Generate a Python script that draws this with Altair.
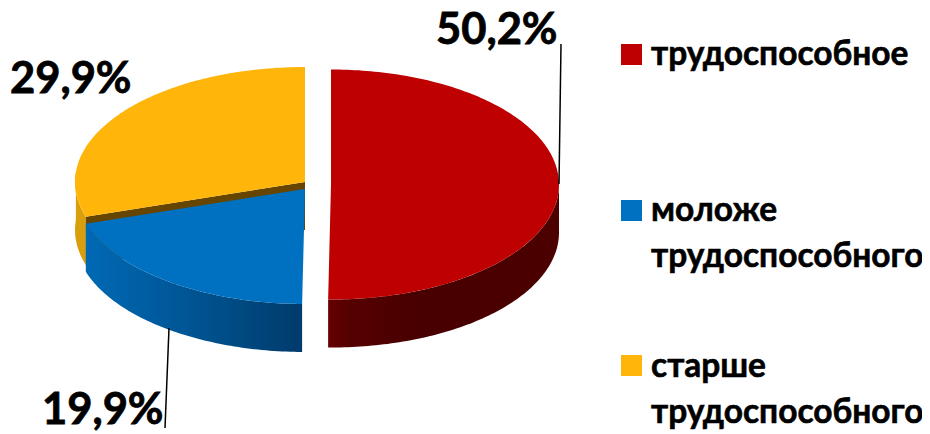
import math
import altair as alt
import pandas as pd

categories = ["трудоспособное", "моложе трудоспособного", "старше трудоспособного"]
shares = [50.2, 19.9, 29.9]
share_labels = ["50,2%", "19,9%", "29,9%"]
top_colors = ["#BE0000", "#0070C0", "#FFB50A"]
legend_lines = [["трудоспособное"], ["моложе", "трудоспособного"], ["старше", "трудоспособного"]]

FONT = "Lato"
RX, RY, DEPTH = 230, 115, 48
xs = alt.Scale(domain=[8, 922], range=[0, 914])
ys = alt.Scale(domain=[8, 434], range=[0, 426])
X = alt.X("x:Q", scale=xs, axis=None)
Y = alt.Y("y:Q", scale=ys, axis=None)


def pt(cx, cy, t, rx=RX, ry=RY, dy=0):
    r = math.radians(t)
    return cx - rx * math.sin(r), cy - ry * math.cos(r) + dy


def arc(cx, cy, a, b, rx=RX, ry=RY, dy=0):
    n = max(int(abs(b - a)), 2)
    return [pt(cx, cy, a + (b - a) * i / n, rx, ry, dy) for i in range(n + 1)]


def poly(points, fill):
    df = pd.DataFrame(points, columns=["x", "y"])
    df["i"] = range(len(df))
    return alt.Chart(df).mark_line(fill=fill, strokeWidth=0, stroke="transparent", interpolate="linear").encode(
        x=X, y=Y, order="i:Q")


def grad(*stops):
    return alt.Gradient(gradient="linear", x1=0, y1=0, x2=1, y2=0,
                        stops=[alt.GradientStop(offset=o, color=c) for o, c in stops])


t_yellow = shares[2] * 3.6
t_blue = t_yellow + shares[1] * 3.6

cy_c = (305, 182)
cb_c = (305, 189)
cr_c = (331, 184.5)
RR = 228

layers = []
# yellow outer wall
layers.append(poly(arc(*cy_c, 85, t_yellow) + arc(*cy_c, t_yellow, 85, dy=DEPTH), "#D99E0B"))
# yellow cut face
ye = pt(*cy_c, t_yellow)
layers.append(poly([cy_c, ye, (ye[0], ye[1] + DEPTH), (cy_c[0], cy_c[1] + DEPTH)], "#654500"))
# blue wall
layers.append(poly(arc(*cb_c, t_yellow, t_blue) + arc(*cb_c, t_blue, t_yellow, dy=DEPTH),
                   grad((0, "#0069B4"), (0.45, "#005696"), (1, "#003B6B"))))
# blue top
layers.append(poly([cb_c] + arc(*cb_c, t_yellow, t_blue), top_colors[1]))
# yellow top
layers.append(poly([cy_c] + arc(*cy_c, 0, t_yellow), top_colors[2]))
# red wall
layers.append(poly(arc(*cr_c, t_blue, 270, rx=RR) + arc(*cr_c, 270, t_blue, rx=RR, dy=DEPTH),
                   grad((0, "#660000"), (0.08, "#560000"), (0.4, "#480000"), (1, "#4C0000"))))
# red top
layers.append(poly([cr_c] + arc(*cr_c, t_blue, 360, rx=RR), top_colors[0]))

# leader lines
leaders = pd.DataFrame({"x": [561, 169], "x2": [559, 165], "y": [44, 328], "y2": [184, 428]})
layers.append(alt.Chart(leaders).mark_rule(color="#000000", strokeWidth=1.5).encode(
    x=X, x2=alt.X2("x2:Q"), y=Y, y2=alt.Y2("y2:Q")))

# value labels
labels = pd.DataFrame({"x": [436, 42, 10], "y": [44, 424, 93], "t": share_labels})
layers.append(alt.Chart(labels).mark_text(font=FONT, fontWeight="bold", fontSize=43.5, align="left",
                                          baseline="alphabetic", color="#000000", stroke="#000000",
                                          strokeWidth=0.8).encode(x=X, y=Y, text="t:N"))

# legend
sq = pd.DataFrame({"x": [631.5] * 3, "y": [54.5, 210.5, 365.5], "c": top_colors})
layers.append(alt.Chart(sq).mark_square(size=441, opacity=1, filled=True, strokeWidth=0).encode(
    x=X, y=Y, color=alt.Color("c:N", scale=None)))
rows = []
for lines, ybase in zip(legend_lines, [[65], [221, 267], [377, 423]]):
    for t, yy in zip(lines, ybase):
        rows.append({"x": 651, "y": yy, "t": t})
layers.append(alt.Chart(pd.DataFrame(rows)).mark_text(font=FONT, fontWeight="bold", fontSize=33.5, align="left",
                                                      baseline="alphabetic", color="#000000", stroke="#000000",
                                                      strokeWidth=0.6).encode(x=X, y=Y, text="t:N"))

chart = alt.layer(*layers).properties(
    width=914, height=426, padding=0, autosize=alt.AutoSizeParams(type="none"), background="white"
).configure_view(stroke=None)

chart.save("out.html", embed_options={"renderer": "svg", "actions": False})
